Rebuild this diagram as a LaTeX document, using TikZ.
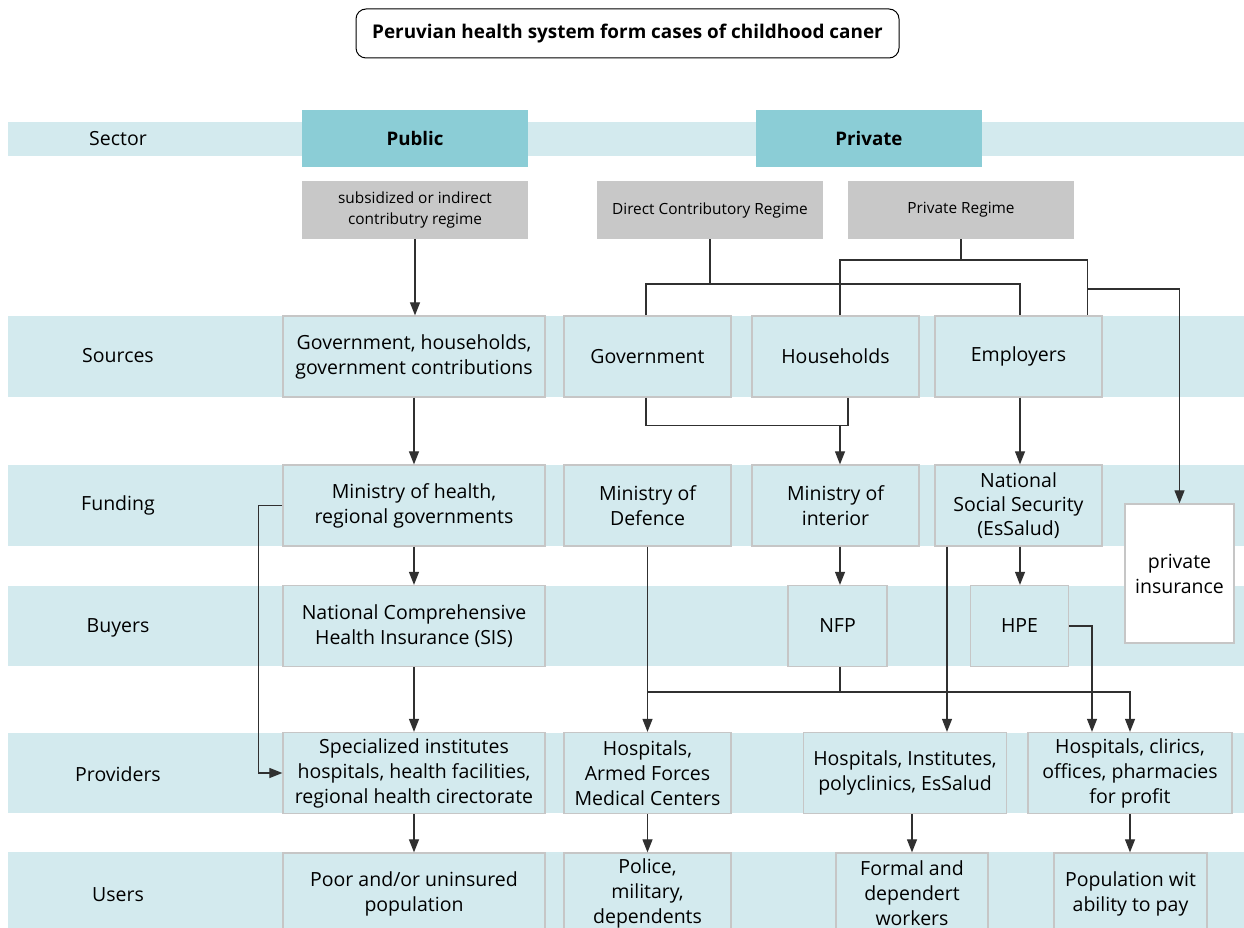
\documentclass[tikz,border=0pt]{standalone}
\usepackage{fontspec}
\setmainfont{Open Sans}
\usetikzlibrary{arrows.meta}

\definecolor{bandblue}{HTML}{D3EAEE}
\definecolor{headblue}{HTML}{8BCDD6}
\definecolor{regimegrey}{HTML}{C8C8C8}
\definecolor{cellline}{HTML}{C6C6C6}
\definecolor{wire}{HTML}{303030}

\begin{document}
\begin{tikzpicture}[x=1pt,y=-1pt,
    cell/.style={draw=cellline, line width=1.3pt, fill=bandblue, inner sep=2pt,
      align=center, minimum height=81pt, font=\fontsize{19.5}{25}\selectfont},
    regime/.style={fill=regimegrey, inner sep=2pt, align=center,
      minimum width=226pt, minimum height=58pt, font=\fontsize{15.4}{21}\selectfont},
    sectorbox/.style={fill=headblue, minimum width=226pt, minimum height=57pt,
      font=\fontsize{18.7}{20}\selectfont\bfseries},
    rowlabel/.style={font=\fontsize{19.5}{22}\selectfont},
    wireline/.style={draw=wire, line width=1.2pt},
    arr/.style={wireline, -{Triangle[width=10pt,length=13pt]}}]

    \useasboundingbox (0,0) rectangle (1244,928);

    % bands
    \foreach \a/\b in {122/156,316/397,465/546,586/666,733/813,852/940}
      \fill[bandblue] (8,\a) rectangle (1244,\b);

    \foreach \y/\t in {139/Sector,356/Sources,505/Funding,628/Buyers,774/Providers,895/Users}
      \node[rowlabel] (row\t) at (118,\y) {\t};

    % title
    \node[draw=black, line width=1pt, rounded corners=10pt, minimum width=543pt,
      minimum height=49pt, font=\fontsize{18.9}{22}\selectfont\bfseries] (title) at (627.5,33.5)
      {Peruvian health system form cases of childhood caner};

    % sector and regimes
    \node[sectorbox] (public) at (415,138.5) {Public};
    \node[sectorbox] (private) at (869,138.5) {Private};
    \node[regime] (subs) at (415,210) {subsidized or indirect\\contributry regime};
    \node[regime] (direct) at (710,210) {Direct Contributory Regime};
    \node[regime] (privreg) at (961,210) {Private Regime};

    % sources
    \node[cell, minimum width=262pt] (pubsrc) at (414,356.5) {Government, households,\\government contributions};
    \node[cell, minimum width=167pt] (gov) at (647.5,356.5) {Government};
    \node[cell, minimum width=167pt] (hh) at (835.5,356.5) {Households};
    \node[cell, minimum width=167pt] (emp) at (1018.5,356.5) {Employers};

    % funding
    \node[cell, minimum width=262pt] (moh) at (414,505.5) {Ministry of health,\\regional governments};
    \node[cell, minimum width=167pt] (mod) at (647.5,505.5) {Ministry of\\Defence};
    \node[cell, minimum width=167pt] (moi) at (835.5,505.5) {Ministry of\\interior};
    \node[cell, minimum width=167pt, font=\fontsize{19.5}{24}\selectfont] (nss) at (1018.5,505.5) {National\\Social Security\\(EsSalud)};
    \node[cell, fill=white, minimum width=109pt, minimum height=139pt] (pins) at (1179.5,573.5) {private\\insurance};

    % buyers
    \node[cell, minimum width=262pt] (sis) at (414,626) {National Comprehensive\\Health Insurance (SIS)};
    \node[cell, minimum width=99pt] (nfp) at (837.5,626) {NFP};
    \node[cell, minimum width=98pt] (hpe) at (1019.5,626) {HPE};

    % providers
    \node[cell, minimum width=262pt] (spec) at (414,773) {Specialized institutes\\hospitals, health facilities,\\regional health cirectorate};
    \node[cell, minimum width=167pt] (armed) at (647.5,773) {Hospitals,\\Armed Forces\\Medical Centers};
    \node[cell, minimum width=203pt] (hinst) at (905,773) {Hospitals, Institutes,\\polyclinics, EsSalud};
    \node[cell, minimum width=204pt] (hclin) at (1130,773) {Hospitals, clirics,\\offices, pharmacies\\for profit};

    % users
    \node[cell, minimum width=262pt] (poor) at (414,893.5) {Poor and/or uninsured\\population};
    \node[cell, minimum width=167pt] (police) at (647.5,893.5) {Police,\\military,\\dependents};
    \node[cell, minimum width=152pt] (formal) at (912,893.5) {Formal and\\dependert\\workers};
    \node[cell, minimum width=153pt] (popu) at (1130.5,893.5) {Population wit\\ability to pay};

    % junctions
    \coordinate (dj) at (710,284);
    \coordinate (pj) at (961,260);
    \coordinate (pb) at (1087,289);
    \coordinate (sj) at (840,425.5);
    \coordinate (bj) at (840,692);

    % regimes to sources
    \draw[arr] (subs.south) -- (subs.south |- pubsrc.north);
    \draw[wireline] (direct.south) -- (dj);
    \draw[wireline] ([xshift=-1.5pt]gov.north) |- (dj) -| ([xshift=1.5pt]emp.north);
    \draw[wireline] (privreg.south) -- (pj);
    \draw[wireline] ([xshift=4.5pt]hh.north) |- (pj) -| ([xshift=-15pt]emp.north east);
    \draw[arr] (pb) -| (pins.north);

    % sources to funding
    \draw[arr] (pubsrc.south) -- (moh.north);
    \draw[wireline] ([xshift=-1.5pt]gov.south) |- (sj) -| ([xshift=12.5pt]hh.south);
    \draw[arr] (sj) -- (sj |- moi.north);
    \draw[arr] ([xshift=1.5pt]emp.south) -- ([xshift=1.5pt]nss.north);

    % funding to buyers
    \draw[arr] (moh.south) -- (sis.north);
    \draw[arr] (sj |- moi.south) -- (sj |- nfp.north);
    \draw[arr] ([xshift=1.5pt]nss.south) -- ([xshift=1.5pt]nss.south |- hpe.north);

    % buyers to providers
    \draw[arr] (moh.west) -- ++(-24,0) |- (spec.west);
    \draw[arr] (sis.south) -- (spec.north);
    \draw[arr] (mod.south) -- (armed.north);
    \draw[wireline] (sj |- nfp.south) -- (bj);
    \draw[arr] (mod.south |- bj) -| (hclin.north);
    \draw[arr] ([xshift=-71.5pt]nss.south) -- ([xshift=-71.5pt]nss.south |- hinst.north);
    \draw[arr] (hpe.east) -| ([xshift=-38pt]hclin.north);

    % providers to users
    \draw[arr] (spec.south) -- (poor.north);
    \draw[arr] (armed.south) -- (police.north);
    \draw[arr] (formal.north |- hinst.south) -- (formal.north);
    \draw[arr] (hclin.south) -- (hclin.south |- popu.north);
\end{tikzpicture}
\end{document}
